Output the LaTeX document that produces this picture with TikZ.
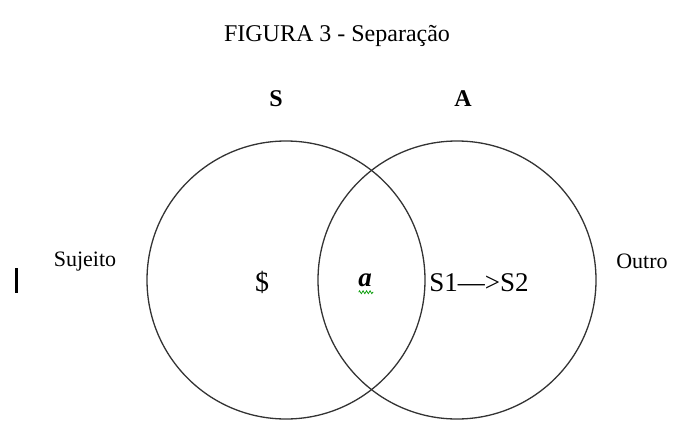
\documentclass[tikz,border=0pt]{standalone}
\usepackage{fontspec}
\setmainfont{Liberation Serif}
\usetikzlibrary{positioning,calc,decorations.pathmorphing}

\begin{document}
\begin{tikzpicture}[x=1pt,y=-1pt,
    ring/.style={draw=black!80,line width=1.3pt},
    side/.style={font=\fontsize{22}{25}\selectfont},
    inner/.style={font=\fontsize{28}{32}\selectfont}]
    \useasboundingbox (0,0) rectangle (674,423);

    % Title
    \node (title) at (337,36) {\fontsize{24}{28}\selectfont FIGURA 3 - Separação};

    % Circles
    \node[ring,circle,minimum size=278pt,inner sep=0pt] (sub) at (286,280) {};
    \node[ring,circle,minimum size=278pt,inner sep=0pt] (oth) at (457,280) {};

    % Letters above
    \node[font=\fontsize{24}{27}\selectfont\bfseries] (s) at (276,99) {S};
    \node[font=\fontsize{24}{27}\selectfont\bfseries] (a) at (463,99) {A};

    % Side labels
    \node[side] (sujeito) at (85,262) {Sujeito};
    \node[side] (outro) at (642,261) {Outro};

    % Inside
    \node[inner] (barred) at (262,282) {\$};
    \node[font=\fontsize{27}{30}\selectfont\bfseries\itshape] (alpha) at (365,280) {a};
    \draw[green!60!black,line width=0.7pt,decorate,decoration={zigzag,segment length=3.5pt,amplitude=1.5pt}]
        ($(alpha.base west)+(4,6)$) -- ($(alpha.base east)+(-2,6)$);
    \node[font=\fontsize{27}{30}\selectfont] (chain) at (479,283) {S1—>S2};

    % Mark
    \draw[line width=3pt] (16,268) -- (16,293);
\end{tikzpicture}
\end{document}
